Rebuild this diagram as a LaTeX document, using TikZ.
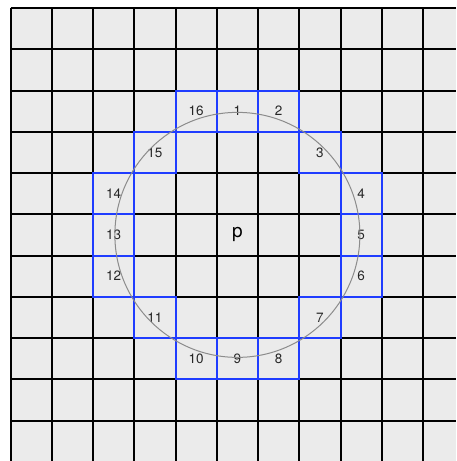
\documentclass[tikz,border=0pt]{standalone}
\usepackage{fontspec}
\setmainfont{TeX Gyre Heros}
\begin{document}
\begin{tikzpicture}[x=1pt,y=-1pt,
  gridline/.style={line width=2pt,black},
  bluecell/.style={draw=fastblue,line width=2pt,minimum size=41.25pt,inner sep=0pt,
     font=\fontsize{13.5}{13.5}\selectfont,text=black!85},
  centerlabel/.style={inner sep=0pt,font=\fontsize{19}{19}\selectfont,text=black},
  ring/.style={draw=gray!90,line width=1pt}]
\definecolor{fastblue}{HTML}{1F3CFF}
\definecolor{cellgray}{HTML}{EBEBEB}
\useasboundingbox (0,0) rectangle (456,461);
\fill[cellgray] (10.5,8) rectangle (456,461);
\foreach \k in {0,...,10} {
  \draw[gridline] ({10.5+41.25*\k},8) -- ({10.5+41.25*\k},461);
  \draw[gridline] (10.5,{8+41.25*\k}) -- (456,{8+41.25*\k});
}
\def\cx{237.375}
\def\cy{234.875}
\def\s{41.25}
\node[centerlabel] (p) at (\cx,\cy) {p};
\node[bluecell] (c1)  at ({\cx+0*\s},{\cy-3*\s}) {1};
\node[bluecell] (c2)  at ({\cx+1*\s},{\cy-3*\s}) {2};
\node[bluecell] (c3)  at ({\cx+2*\s},{\cy-2*\s}) {3};
\node[bluecell] (c4)  at ({\cx+3*\s},{\cy-1*\s}) {4};
\node[bluecell] (c5)  at ({\cx+3*\s},{\cy+0*\s}) {5};
\node[bluecell] (c6)  at ({\cx+3*\s},{\cy+1*\s}) {6};
\node[bluecell] (c7)  at ({\cx+2*\s},{\cy+2*\s}) {7};
\node[bluecell] (c8)  at ({\cx+1*\s},{\cy+3*\s}) {8};
\node[bluecell] (c9)  at ({\cx+0*\s},{\cy+3*\s}) {9};
\node[bluecell] (c10) at ({\cx-1*\s},{\cy+3*\s}) {10};
\node[bluecell] (c11) at ({\cx-2*\s},{\cy+2*\s}) {11};
\node[bluecell] (c12) at ({\cx-3*\s},{\cy+1*\s}) {12};
\node[bluecell] (c13) at ({\cx-3*\s},{\cy+0*\s}) {13};
\node[bluecell] (c14) at ({\cx-3*\s},{\cy-1*\s}) {14};
\node[bluecell] (c15) at ({\cx-2*\s},{\cy-2*\s}) {15};
\node[bluecell] (c16) at ({\cx-1*\s},{\cy-3*\s}) {16};
\draw[ring] (p.center) circle[radius=122.5];
\end{tikzpicture}
\end{document}
